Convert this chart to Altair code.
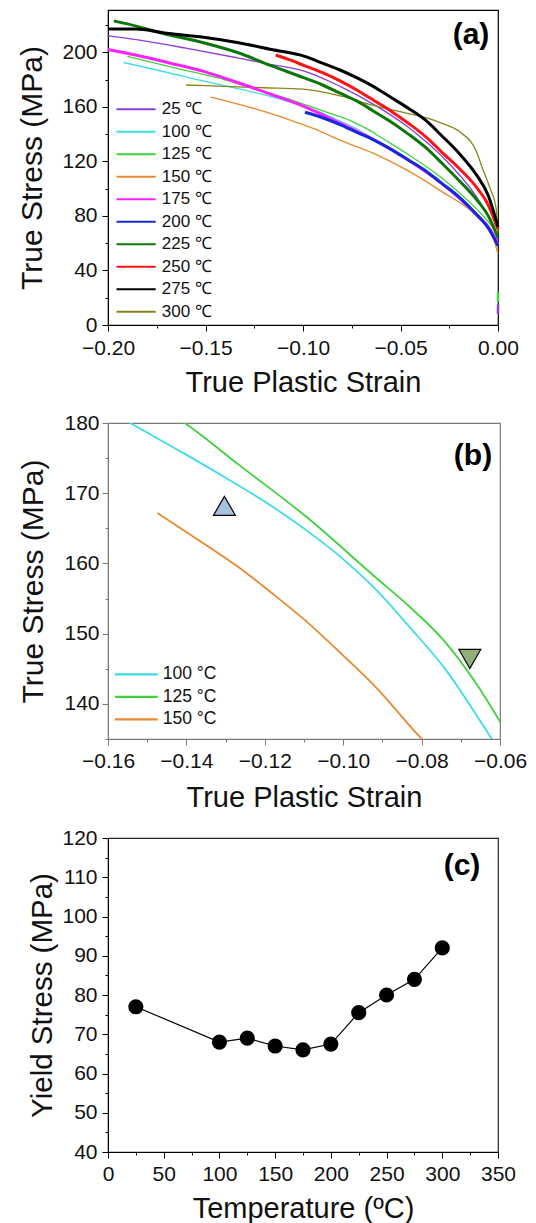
import altair as alt
import pandas as pd

FONT = "Liberation Sans"

# ---------------- (a) true stress vs true plastic strain ----------------
temps = ["25", "100", "125", "150", "175", "200", "225", "250", "275", "300"]
curve_colors = ["#8a3fd8", "#3ddde8", "#3ed23e", "#e8892e", "#ff20ff",
                "#1428e0", "#0b760b", "#ff1212", "#000000", "#86861a"]
noisy_temps = ["175", "200", "225", "250", "275"]

strain_25 = [-0.200, -0.180, -0.160, -0.134, -0.116, -0.099, -0.081, -0.064, -0.046, -0.029, -0.011, -0.005, -0.002, 0.0]
stress_25 = [212, 208, 203, 196, 191, 186, 175, 162, 145, 124, 94, 80, 72, 62]

strain_100 = [-0.192, -0.175, -0.160, -0.1543, -0.1404, -0.130, -0.1178, -0.1091, -0.1004, -0.0917, -0.083, -0.0743, -0.063, -0.046, -0.029, -0.011, -0.004, 0.0]
stress_100 = [192.5, 187, 181.9, 180, 175.6, 172.2, 168.0, 164.6, 160.8, 156.3, 150.9, 145.2, 135.8, 121, 104, 80, 70, 60]

strain_125 = [-0.190, -0.170, -0.155, -0.1404, -0.1265, -0.1091, -0.0917, -0.083, -0.0743, -0.0656, -0.060, -0.046, -0.029, -0.011, -0.004, 0.0]
stress_125 = [197, 190, 185, 180, 174, 166.5, 158, 153.8, 149, 142.5, 137.5, 125, 108, 85, 74, 66]

strain_150 = [-0.1474, -0.1352, -0.1265, -0.1178, -0.1091, -0.1004, -0.0917, -0.0813, -0.064, -0.046, -0.029, -0.011, -0.005, -0.002, 0.0]
stress_150 = [167.2, 162.7, 159.4, 155.6, 151.6, 147.1, 142.4, 135.8, 126, 113, 98, 80, 70, 62, 52]

strain_175 = [-0.200, -0.186, -0.168, -0.151, -0.134, -0.116, -0.099, -0.081, -0.064, -0.046, -0.029, -0.011, -0.004, 0.0]
stress_175 = [202, 198, 192, 186, 178, 169, 160, 148, 136, 121, 104, 81, 70, 59]

strain_200 = [-0.099, -0.090, -0.081, -0.072, -0.064, -0.055, -0.046, -0.037, -0.029, -0.020, -0.011, -0.004, 0.0]
stress_200 = [156, 152, 147, 141, 136, 129, 121, 113, 104, 94, 81, 69, 58]

strain_225 = [-0.197, -0.185, -0.172, -0.151, -0.134, -0.116, -0.099, -0.090, -0.081, -0.072, -0.064, -0.055, -0.046, -0.037, -0.029, -0.020, -0.011, -0.005, 0.0]
stress_225 = [223, 219, 214, 207, 200, 190, 181, 176, 170, 164, 157, 149, 140, 130, 119, 106, 92, 80, 64]

strain_250 = [-0.114, -0.106, -0.099, -0.090, -0.081, -0.072, -0.064, -0.055, -0.046, -0.037, -0.029, -0.020, -0.011, -0.005, 0.0]
stress_250 = [198, 194, 190, 185, 179, 172, 165, 157, 148, 138, 127, 115, 101, 88, 70]

strain_275 = [-0.200, -0.186, -0.170, -0.151, -0.133, -0.116, -0.099, -0.090, -0.081, -0.072, -0.064, -0.055, -0.046, -0.037, -0.029, -0.020, -0.011, -0.005, 0.0]
stress_275 = [217, 217, 214, 211, 207, 202, 197, 192, 187, 181, 175, 167, 159, 150, 139, 126, 110, 95, 72]

strain_300 = [-0.160, -0.140, -0.120, -0.100, -0.081, -0.064, -0.046, -0.037, -0.029, -0.020, -0.011, -0.008, -0.004, -0.001, 0.0]
stress_300 = [176, 175, 174, 173, 168, 161, 155, 152, 148, 142, 127, 115, 100, 86, 68]

# short elastic segments sitting on the zero-strain line
strain_25_el = [0.0, 0.0]
stress_25_el = [8, 15]
strain_125_el = [0.0, 0.0]
stress_125_el = [17, 24]

# ---------------- (b) zoomed triangles ----------------
marker_strain = [-0.1303, -0.0677]
marker_stress = [168.2, 146.4]
marker_shape = ["triangle-up", "triangle-down"]
marker_fill = ["#a9c2de", "#8fae78"]

# ---------------- (c) yield stress vs temperature ----------------
yield_temp = [25, 100, 125, 150, 175, 200, 225, 250, 275, 300]
yield_stress = [77, 68, 69, 67, 66, 67.5, 75.5, 80, 84, 92]

# tick positions
a_x_ticks = [-0.200, -0.175, -0.150, -0.125, -0.100, -0.075, -0.050, -0.025, 0.0]
a_y_ticks = [0, 20, 40, 60, 80, 100, 120, 140, 160, 180, 200, 220]
b_x_ticks = [-0.16, -0.15, -0.14, -0.13, -0.12, -0.11, -0.10, -0.09, -0.08, -0.07, -0.06]
b_y_ticks = [135, 140, 145, 150, 155, 160, 165, 170, 175, 180]
c_x_ticks = [0, 25, 50, 75, 100, 125, 150, 175, 200, 225, 250, 275, 300, 325, 350]
c_y_ticks = [40, 45, 50, 55, 60, 65, 70, 75, 80, 85, 90, 95, 100, 105, 110, 115, 120]

curves = {
    "25": [(strain_25, stress_25), (strain_25_el, stress_25_el)],
    "100": [(strain_100, stress_100)],
    "125": [(strain_125, stress_125), (strain_125_el, stress_125_el)],
    "150": [(strain_150, stress_150)],
    "175": [(strain_175, stress_175)],
    "200": [(strain_200, stress_200)],
    "225": [(strain_225, stress_225)],
    "250": [(strain_250, stress_250)],
    "275": [(strain_275, stress_275)],
    "300": [(strain_300, stress_300)],
}

rows = []
for t in temps:
    for k, (xs, ys) in enumerate(curves[t]):
        for i, (x, y) in enumerate(zip(xs, ys)):
            rows.append({"temp": t, "seg": f"{t}-{k}", "part": k, "order": i,
                         "strain": x, "stress": y})
curve_df = pd.DataFrame(rows)

color_scale = alt.Scale(domain=temps, range=curve_colors)


def axis(values, fmt, major, label_pad, title_pad, label_size=21, title_size=29,
         line_color="black"):
    return alt.Axis(
        values=values, format=fmt,
        labelExpr=f"({major}) ? datum.label : ''",
        tickSize={"condition": {"test": major, "value": 6}, "value": 3},
        labelPadding=label_pad, titlePadding=title_pad,
        labelFontSize=label_size, titleFontSize=title_size,
        labelOverlap=False, labelFlush=False, grid=False,
        domainColor=line_color, tickColor=line_color,
    )


# ---------- panel (a) ----------
ax_a_x = axis(a_x_ticks, ".2f", "abs(round(datum.value*1000)) % 50 == 0", 6, 10)
ax_a_y = axis(a_y_ticks, "d", "datum.value % 40 == 0", 5, 14, title_size=30)
xa = alt.X("strain:Q", title="True Plastic Strain",
           scale=alt.Scale(domain=[-0.2, 0.0], nice=False, zero=False), axis=ax_a_x)
ya = alt.Y("stress:Q", title="True Stress (MPa)",
           scale=alt.Scale(domain=[0, 231], nice=False, zero=False), axis=ax_a_y)
color_a = alt.Color("temp:N", scale=color_scale, legend=None)

main_parts = alt.datum.part == 0
smooth_a = alt.Chart(curve_df).transform_filter(main_parts).transform_filter(
    alt.FieldOneOfPredicate(field="temp", oneOf=[t for t in temps if t not in noisy_temps])
).mark_line(strokeWidth=1.3, interpolate="monotone").encode(
    x=xa, y=ya, detail="seg:N", order="order:Q", color=color_a,
)
noisy_a = alt.Chart(curve_df).transform_filter(main_parts).transform_filter(
    alt.FieldOneOfPredicate(field="temp", oneOf=noisy_temps)
).mark_line(strokeWidth=3, interpolate="monotone").encode(
    x=xa, y=ya, detail="seg:N", order="order:Q", color=color_a,
)
elastic_a = alt.Chart(curve_df).transform_filter(alt.datum.part == 1).mark_line(
    strokeWidth=2.5
).encode(x=xa, y=ya, detail="seg:N", order="order:Q", color=color_a)

leg_a = pd.DataFrame({
    "temp": temps,
    "label": [f"{t} ℃" for t in temps],
    "py": [99.3 + 22.5 * i for i in range(len(temps))],
})
leg_a_lines = alt.Chart(leg_a).mark_rule(strokeWidth=2).encode(
    x=alt.value(8.5), x2=alt.value(47.7),
    y=alt.Y("py:Q", scale=None, axis=None), color=color_a,
)
leg_a_text = alt.Chart(leg_a).mark_text(
    align="left", baseline="middle", fontSize=17, font=FONT, color="#111111"
).encode(x=alt.value(53.8), y=alt.Y("py:Q", scale=None, axis=None), text="label:N")

tag_a = alt.Chart(pd.DataFrame({"t": ["(a)"]})).mark_text(
    fontSize=30, fontWeight="bold", font=FONT, color="black"
).encode(x=alt.value(363), y=alt.value(25), text="t:N")

panel_a = alt.layer(smooth_a, noisy_a, elastic_a, leg_a_lines, leg_a_text, tag_a).properties(
    width=390, height=315, view=alt.ViewBackground(stroke="black", strokeWidth=1.2)
)

# ---------- panel (b) ----------
b_temps = ["100", "125", "150"]
b_colors = ["#45d6e6", "#3ec83e", "#e0913a"]
b_scale = alt.Scale(domain=b_temps, range=b_colors)
ax_b_x = axis(b_x_ticks, ".2f", "abs(round(datum.value*100)) % 2 == 0", 5, 12, line_color="#7a7a7a")
ax_b_y = axis(b_y_ticks, "d", "datum.value % 10 == 0", 3, 15, title_size=30, line_color="#7a7a7a")
xb = alt.X("strain:Q", title="True Plastic Strain",
           scale=alt.Scale(domain=[-0.16, -0.06], nice=False, zero=False), axis=ax_b_x)
yb = alt.Y("stress:Q", title="True Stress (MPa)",
           scale=alt.Scale(domain=[135, 180], nice=False, zero=False), axis=ax_b_y)

lines_b = alt.Chart(curve_df).transform_filter(
    alt.FieldOneOfPredicate(field="seg", oneOf=["100-0", "125-0", "150-0"])
).mark_line(strokeWidth=1.8, clip=True, interpolate="monotone").encode(
    x=xb, y=yb, order="order:Q",
    color=alt.Color("temp:N", scale=b_scale, legend=None),
)

marker_df = pd.DataFrame({"strain": marker_strain, "stress": marker_stress,
                          "shape": marker_shape, "fill": marker_fill})
markers_b = alt.Chart(marker_df).mark_point(
    filled=True, size=480, stroke="black", strokeWidth=1.2, opacity=1
).encode(
    x=xb, y=yb,
    shape=alt.Shape("shape:N", scale=None, legend=None),
    fill=alt.Fill("fill:N", scale=None, legend=None),
)

leg_b = pd.DataFrame({
    "temp": b_temps,
    "label": [f"{t} °C" for t in b_temps],
    "py": [251.3 + 22.5 * i for i in range(len(b_temps))],
})
leg_b_lines = alt.Chart(leg_b).mark_rule(strokeWidth=2.2).encode(
    x=alt.value(7), x2=alt.value(49.7),
    y=alt.Y("py:Q", scale=None, axis=None),
    color=alt.Color("temp:N", scale=b_scale, legend=None),
)
leg_b_text = alt.Chart(leg_b).mark_text(
    align="left", baseline="middle", fontSize=17.5, font=FONT, color="#111111"
).encode(x=alt.value(54.8), y=alt.Y("py:Q", scale=None, axis=None), text="label:N")

tag_b = alt.Chart(pd.DataFrame({"t": ["(b)"]})).mark_text(
    fontSize=30, fontWeight="bold", font=FONT, color="black"
).encode(x=alt.value(365), y=alt.value(33), text="t:N")

panel_b = alt.layer(lines_b, markers_b, leg_b_lines, leg_b_text, tag_b).properties(
    width=392, height=316, view=alt.ViewBackground(stroke="#7a7a7a", strokeWidth=1.2)
)

# ---------- panel (c) ----------
ax_c_x = axis(c_x_ticks, "d", "datum.value % 50 == 0", 5, 10)
ax_c_y = axis(c_y_ticks, "d", "datum.value % 10 == 0", 5, 4, title_size=29.5)
yield_df = pd.DataFrame({"temperature": yield_temp, "yield": yield_stress})
xc = alt.X("temperature:Q", title="Temperature (ºC)",
           scale=alt.Scale(domain=[0, 350], nice=False, zero=False), axis=ax_c_x)
yc = alt.Y("yield:Q", title="Yield Stress (MPa)",
           scale=alt.Scale(domain=[40, 120], nice=False, zero=False), axis=ax_c_y)

line_c = alt.Chart(yield_df).mark_line(color="black", strokeWidth=1.2).encode(x=xc, y=yc)
dots_c = alt.Chart(yield_df).mark_circle(color="black", size=230, opacity=1).encode(x=xc, y=yc)
tag_c = alt.Chart(pd.DataFrame({"t": ["(c)"]})).mark_text(
    fontSize=30, fontWeight="bold", font=FONT, color="black"
).encode(x=alt.value(354), y=alt.value(28), text="t:N")

panel_c = alt.layer(line_c, dots_c, tag_c).properties(
    width=390, height=314, view=alt.ViewBackground(stroke="#222222", strokeWidth=1.2)
)

chart = alt.vconcat(panel_a, panel_b, panel_c, spacing=13).properties(
    padding={"left": 17, "top": 9, "right": 0, "bottom": 0},
    background="white",
).configure_axis(
    labelFont=FONT, titleFont=FONT, titleFontWeight="normal",
    labelColor="#111111", titleColor="#111111",
).configure_view(stroke="black")

chart.save("out.html", embed_options={"renderer": "svg", "actions": False})
